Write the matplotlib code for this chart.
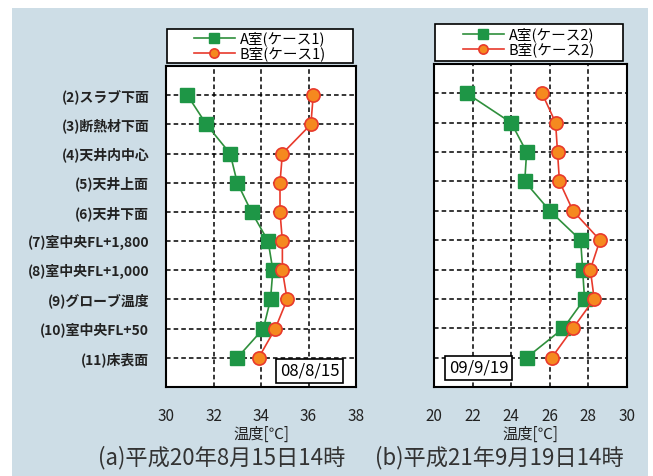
import matplotlib
matplotlib.use("Agg")
import matplotlib.pyplot as plt
from matplotlib.patches import Rectangle

plt.rcParams['font.family'] = ['Noto Sans CJK JP', 'DejaVu Sans']

# Data
positions = ["(2)スラブ下面", "(3)断熱材下面", "(4)天井内中心", "(5)天井上面", "(6)天井下面",
             "(7)室中央FL+1,800", "(8)室中央FL+1,000", "(9)グローブ温度",
             "(10)室中央FL+50", "(11)床表面"]
case1_a = [30.9, 31.7, 32.7, 33.0, 33.6, 34.3, 34.5, 34.4, 34.1, 33.0]
case1_b = [36.2, 36.1, 34.9, 34.8, 34.8, 34.9, 34.9, 35.1, 34.6, 33.9]
case2_a = [21.7, 24.0, 24.8, 24.7, 26.0, 27.6, 27.7, 27.8, 26.7, 24.8]
case2_b = [25.6, 26.3, 26.4, 26.5, 27.2, 28.6, 28.1, 28.3, 27.2, 26.1]
xticks1 = [30, 32, 34, 36, 38]
xticks2 = [20, 22, 24, 26, 28, 30]
labels1 = ["A室(ケース1)", "B室(ケース1)"]
labels2 = ["A室(ケース2)", "B室(ケース2)"]
dates = ["08/8/15", "09/9/19"]
captions = ["(a)平成20年8月15日14時", "(b)平成21年9月19日14時"]

W, H = 653, 476
fig = plt.figure(figsize=(W / 100, H / 100), dpi=100)
fig.patch.set_facecolor("white")
fig.patches.append(Rectangle((12 / W, 0), 636 / W, 1 - 8 / H, transform=fig.transFigure,
                             facecolor="#cddde6", edgecolor="none", zorder=-10))

GREEN = "#1e9646"
GREEN_LINE = "#2f8f3c"
RED = "#e83a2c"
ORANGE = "#f5891f"


def px_axes(x0, y0, x1, y1):
    return fig.add_axes([x0 / W, 1 - y1 / H, (x1 - x0) / W, (y1 - y0) / H])


def draw_panel(ax, a, b, xticks, labels, date, date_xy, show_ylabels, legend_box):
    y = list(range(1, len(a) + 1))
    ax.set_facecolor("white")
    la, = ax.plot(a, y, color=GREEN_LINE, lw=1.2, marker="s", ms=10,
                  mfc=GREEN, mec=GREEN, zorder=3)
    lb, = ax.plot(b, y, color=RED, lw=1.2, marker="o", ms=9.5,
                  mfc=ORANGE, mec=RED, mew=1.2, zorder=4)
    ax.set_xlim(xticks[0], xticks[-1])
    ax.set_ylim(11, 0)
    ax.set_xticks(xticks)
    ax.set_yticks(y)
    if show_ylabels:
        ax.set_yticklabels(positions, fontsize=10, color="#222222", fontweight="bold")
    else:
        ax.set_yticklabels([])
    ax.tick_params(axis="both", length=0)
    ax.tick_params(axis="x", labelsize=11, pad=15, colors="#222222")
    ax.tick_params(axis="y", pad=12)
    ax.grid(True, color="black", linestyle=(0, (3, 2)), lw=1.1)
    for s in ax.spines.values():
        s.set_linewidth(1.5)
        s.set_color("black")
    ax.set_xlabel("温度[℃]", fontsize=11, labelpad=1, color="#222222")
    ax.text(date_xy[0], date_xy[1], date, fontsize=12, ha="center", va="center",
            bbox=dict(boxstyle="square,pad=0.22", fc="white", ec="black", lw=1.2), zorder=5)

    # legend box
    x0, y0, x1, y1 = legend_box
    fig.patches.append(Rectangle((x0 / W, 1 - y1 / H), (x1 - x0) / W, (y1 - y0) / H,
                                 transform=fig.transFigure, facecolor="white",
                                 edgecolor="black", lw=1.2, zorder=1))
    fig.legend([la, lb], labels, loc="center",
               bbox_to_anchor=(((x0 + x1) / 2) / W, 1 - ((y0 + y1) / 2) / H),
               frameon=False, fontsize=10.5, handlelength=2.8, handletextpad=0.35,
               labelspacing=0.0, markerscale=0.7, borderpad=0)


ax1 = px_axes(166, 66, 356, 387)
draw_panel(ax1, case1_a, case1_b, xticks1, labels1, dates[0], (36.05, 10.45), True,
           (167, 29, 353, 63))
ax2 = px_axes(434, 64, 627, 387)
draw_panel(ax2, case2_a, case2_b, xticks2, labels2, dates[1], (22.3, 10.35), False,
           (435, 24, 623, 61))

fig.text(222 / W, 1 - 458 / H, captions[0], fontsize=16, ha="center", va="center", color="#333333")
fig.text(499 / W, 1 - 458 / H, captions[1], fontsize=16, ha="center", va="center", color="#333333")

fig.savefig("out.png", dpi=100)
